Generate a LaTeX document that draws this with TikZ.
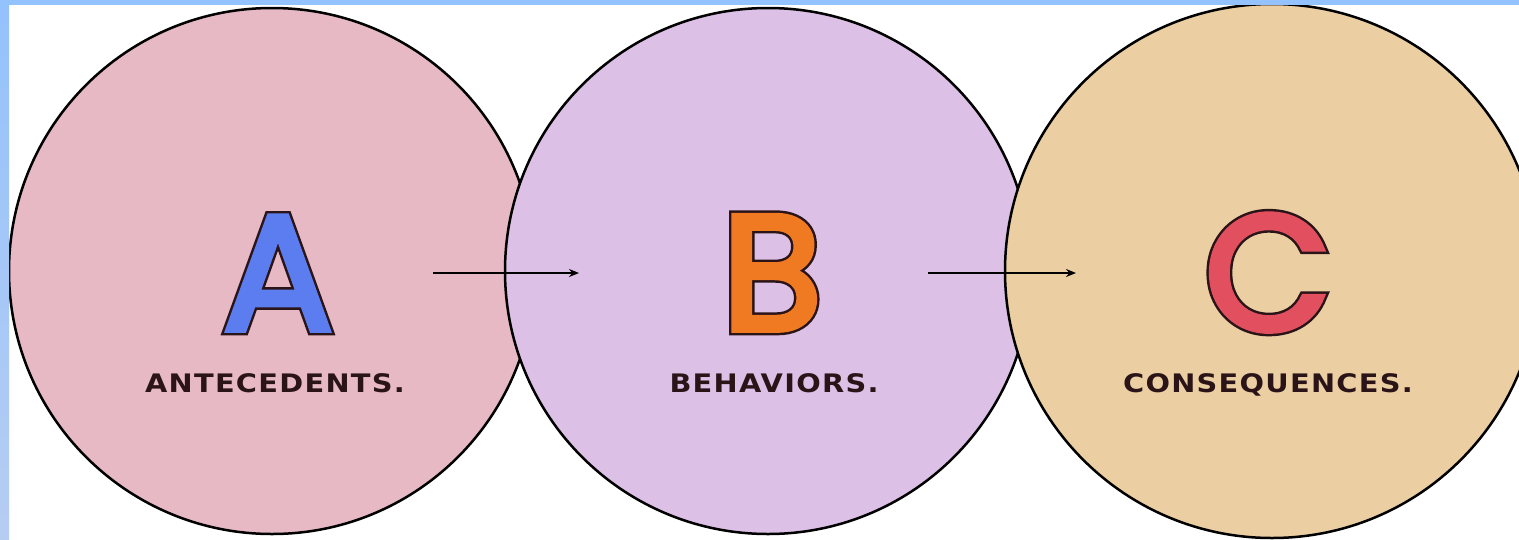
\documentclass[tikz,border=0pt]{standalone}
\usepackage{fontspec}
\usetikzlibrary{arrows.meta}
\newfontfamily\bigf{Poppins}[FakeBold=3.5]
\newfontfamily\bigfo{Poppins}[FakeBold=6.5]
\newfontfamily\labf{DejaVu Sans}[FakeStretch=1.13, LetterSpace=5]
\definecolor{pinkc}{HTML}{E6B9C5}
\definecolor{lilacc}{HTML}{DCC0E6}
\definecolor{tanc}{HTML}{EBCFA3}
\definecolor{blueA}{HTML}{5B7DF0}
\definecolor{orangeB}{HTML}{F07A22}
\definecolor{redC}{HTML}{E2505F}
\definecolor{outl}{HTML}{2A1418}
\definecolor{topblue}{HTML}{94C2FC}
\definecolor{botblue}{HTML}{B6CDF2}
\newcommand{\outlined}[2]{\rlap{\bigfo\color{outl}#2}{\bigf\color{#1}#2}}
\begin{document}
\begin{tikzpicture}[x=1pt,y=-1pt,
  bubble/.style={circle, draw=black, line width=2.5pt, minimum size=526pt, inner sep=0pt},
  bigletter/.style={inner sep=0pt, anchor=base, font=\bigf\fontsize{164}{164}\selectfont},
  caption/.style={inner sep=0pt, anchor=base, text=outl, font=\labf\bfseries\fontsize{25.5}{25.5}\selectfont},
  conn/.style={line width=2pt, -{Stealth[length=10pt,width=8pt]}}]
\useasboundingbox (0,0) rectangle (1519,539);
\clip (0,0) rectangle (1519,539);
\fill[white] (0,0) rectangle (1519,539);
% circles
\node[bubble, fill=pinkc] (ca) at (272,271) {};
\node[bubble, fill=lilacc] (cb) at (768,271) {};
\node[bubble, fill=tanc, minimum size=534pt] (cc) at (1272,271) {};
% big letters
\node[bigletter] (A) at (278,330) {\outlined{blueA}{A}};
\node[bigletter] (B) at (772,330) {\outlined{orangeB}{B}};
\node[bigletter] (C) at (1268,330) {\outlined{redC}{C}};
% captions
\node[caption] (la) at (275,392) {ANTECEDENTS.};
\node[caption] (lb) at (774,392) {BEHAVIORS.};
\node[caption] (lc) at (1268,392) {CONSEQUENCES.};
% connectors
\coordinate (a1s) at (433,273);
\coordinate (a1e) at (579,273);
\coordinate (a2s) at (928,273);
\coordinate (a2e) at (1076,273);
\draw[conn] (a1s) -- (a1e);
\draw[conn] (a2s) -- (a2e);
% frame strips
\fill[topblue] (0,0) rectangle (1519,5);
\shade[top color=topblue, bottom color=botblue] (0,0) rectangle (9,539);
\end{tikzpicture}
\end{document}
